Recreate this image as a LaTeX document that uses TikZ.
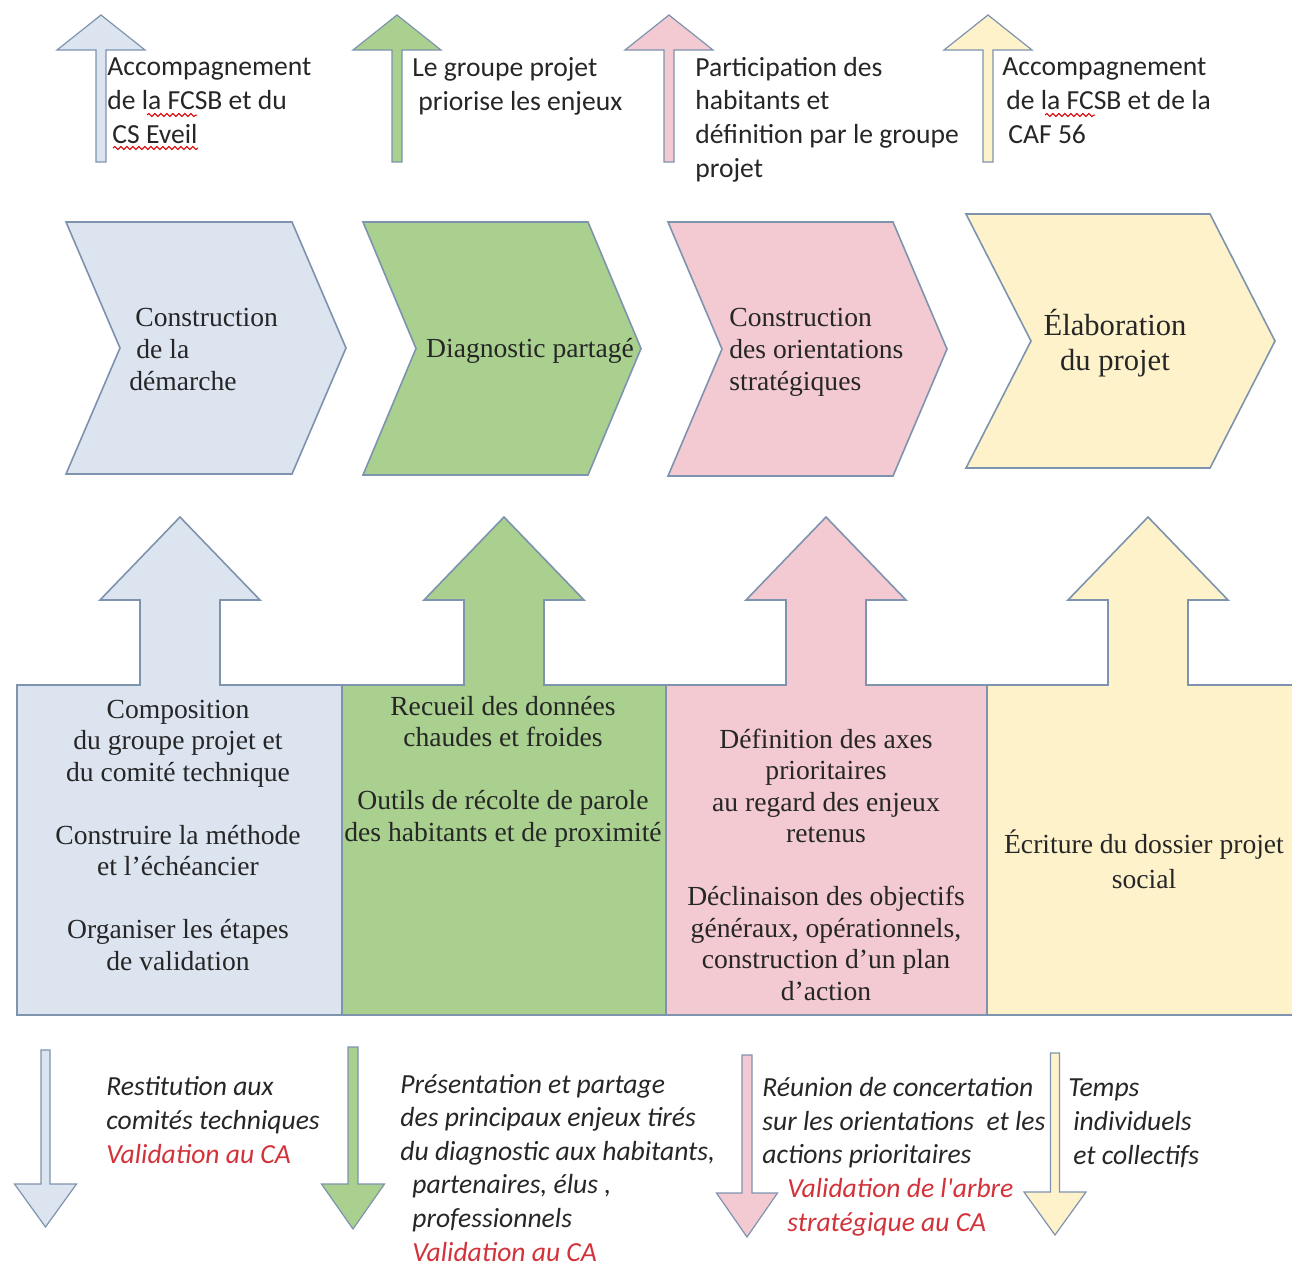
\documentclass[tikz,border=0pt]{standalone}
\usepackage{fontspec}
\setmainfont{Liberation Serif}
\newfontfamily\calibri{Carlito}
\usetikzlibrary{positioning, decorations.pathmorphing}

\definecolor{bluefill}{HTML}{DCE4F0}
\definecolor{greenfill}{HTML}{A9D08E}
\definecolor{pinkfill}{HTML}{F3CAD2}
\definecolor{yellowfill}{HTML}{FEF2CB}
\definecolor{edge}{HTML}{7E93AE}
\definecolor{ink}{HTML}{262626}
\definecolor{redtxt}{HTML}{D2333A}

% vertical block arrow: style, x, tip y, head base y, end y, half head, half shaft
\newcommand{\vertarrow}[7]{%
  \draw[#1] (#2-#7,#5) -- (#2-#7,#4) -- (#2-#6,#4) -- (#2,#3)
    -- (#2+#6,#4) -- (#2+#7,#4) -- (#2+#7,#5) -- cycle;}

% chevron: style, left, right, top, bottom, offset
\newcommand{\phasebox}[6]{%
  \draw[#1] (#2,#4) -- (#3,#4) -- ({#3+#6},{(#4+#5)/2}) -- (#3,#5)
    -- (#2,#5) -- ({#2+#6},{(#4+#5)/2}) -- cycle;}

% box with its big arrow: style, left, right, arrow x
\newcommand{\stagecol}[4]{%
  \draw[#1] (#2,1015) -- (#2,685) -- (#4-40,685) -- (#4-40,600) -- (#4-80,600)
    -- (#4,517) -- (#4+80,600) -- (#4+40,600) -- (#4+40,685) -- (#3,685)
    -- (#3,1015) -- cycle;}

\begin{document}
\begin{tikzpicture}[x=0.5pt, y=-0.5pt,
    thin/.style={draw=edge, line width=0.6pt, line join=miter},
    block/.style={draw=edge, line width=0.8pt, line join=miter},
    toplbl/.style={font=\calibri\fontsize{13.8}{16.8}\selectfont, text=ink,
                   align=left, anchor=base west, inner sep=0pt},
    botlbl/.style={toplbl, font=\calibri\itshape\fontsize{13.8}{16.8}\selectfont},
    phasetxt/.style={font=\fontsize{13.8}{16}\selectfont, text=ink,
                     anchor=base west, align=left, inner sep=0pt},
    boxtxt/.style={font=\fontsize{13.8}{15.75}\selectfont, text=ink,
                   align=center, anchor=base, inner sep=0pt},
    spell/.style={draw=red!85!black, line width=0.5pt,
                  decorate, decoration={snake, amplitude=0.8pt, segment length=3pt}},
  ]
  \clip (0,0) rectangle (1292,1266);

  % Upper thin arrows
  \vertarrow{thin, fill=bluefill}{101}{15}{50}{162}{44}{5}
  \vertarrow{thin, fill=greenfill}{397}{15}{50}{162}{44}{5}
  \vertarrow{thin, fill=pinkfill}{669}{15}{50}{162}{44}{5}
  \vertarrow{thin, fill=yellowfill}{988}{15}{50}{162}{44}{5}

  % (base anchor = last line)
  \node[toplbl] (accfcsb) at (107,143)
    {Accompagnement\\de la FCSB et du\\\hspace{2.5pt}CS Eveil};
  \node[toplbl] (priorise) at (412,110)
    {Le groupe projet\\\hspace{3pt}priorise les enjeux};
  \node[toplbl] (participation) at (695,177)
    {Participation des\\habitants et\\d\'efinition par le groupe\\projet};
  \node[toplbl] (acccaf) at (1002,143)
    {Accompagnement\\\hspace{2pt}de la FCSB et de la\\\hspace{3pt}CAF 56};

  % spell-check waves
  \draw[spell] (147,115) -- (197,115);
  \draw[spell] (113,148) -- (198,148);
  \draw[spell] (1045,115) -- (1095,115);

  % Chevrons
  \phasebox{block, fill=bluefill}{66}{292}{222}{474}{54}
  \phasebox{block, fill=greenfill}{363}{588}{222}{475}{53}
  \phasebox{block, fill=pinkfill}{668}{893}{222}{476}{54}
  \phasebox{block, fill=yellowfill}{966}{1210}{214}{468}{65}

  \node[phasetxt] (demarche) at (129,390)
    {\hspace{3pt}Construction\\\hspace{3.5pt}de la\\d\'emarche};
  \node[phasetxt, anchor=base] (diagnostic) at (530,357) {Diagnostic partag\'e};
  \node[phasetxt] (orientations) at (729,390)
    {Construction\\des orientations\\strat\'egiques};
  \node[phasetxt, anchor=base, align=center,
        font=\fontsize{15.3}{17.5}\selectfont] (elaboration) at (1115,370)
    {\'Elaboration\\du projet};

  % Boxes with big arrows
  \stagecol{block, fill=bluefill}{17}{342}{180}
  \stagecol{block, fill=greenfill}{342}{666}{504}
  \stagecol{block, fill=pinkfill}{666}{987}{826}
  \stagecol{block, fill=yellowfill}{987}{1310}{1148}

  \node[boxtxt] (composition) at (178,970)
    {Composition\\du groupe projet et\\du comit\'e technique\\[15.75pt]
     Construire la m\'ethode\\et l'\'ech\'eancier\\[15.75pt]
     Organiser les \'etapes\\de validation};
  \node[boxtxt] (recueil) at (503,841)
    {Recueil des donn\'ees\\chaudes et froides\\[15.75pt]
     Outils de r\'ecolte de parole\\des habitants et de proximit\'e};
  \node[boxtxt] (axes) at (826,1000)
    {D\'efinition des axes\\prioritaires\\au regard des enjeux\\retenus\\[15.75pt]
     D\'eclinaison des objectifs\\g\'en\'eraux, op\'erationnels,\\construction d'un plan\\d'action};
  \node[boxtxt, font=\fontsize{13.8}{17.5}\selectfont] (ecriture) at (1144,888)
    {\'Ecriture du dossier projet\\social};

  % Lower thin arrows
  \vertarrow{thin, fill=bluefill}{45.5}{1227}{1184}{1050}{31}{4.5}
  \vertarrow{thin, fill=greenfill}{353}{1229}{1184}{1047}{31.5}{5}
  \vertarrow{thin, fill=pinkfill}{747}{1237}{1193}{1055}{30.5}{5}
  \vertarrow{thin, fill=yellowfill}{1055}{1235}{1192}{1053}{31}{4.5}

  \node[botlbl] (restitution) at (106,1163)
    {Restitution aux\\comit\'es techniques\\\textcolor{redtxt}{Validation au CA}};
  \node[botlbl] (presentation) at (400,1261)
    {Pr\'esentation et partage\\des principaux enjeux tir\'es\\du diagnostic aux habitants,\\
     \hspace{6pt}partenaires, \'elus ,\\\hspace{6pt}professionnels\\
     \hspace{6pt}\textcolor{redtxt}{Validation au CA}};
  \node[botlbl] (reunion) at (762,1231)
    {R\'eunion de concertation\\sur les orientations\ \ et les\\actions prioritaires\\
     \hspace{12.5pt}\textcolor{redtxt}{Validation de l'arbre}\\
     \hspace{12.5pt}\textcolor{redtxt}{strat\'egique au CA}};
  \node[botlbl] (temps) at (1068,1164)
    {Temps\\\hspace{2.5pt}individuels\\\hspace{2.5pt}et collectifs};
\end{tikzpicture}
\end{document}
